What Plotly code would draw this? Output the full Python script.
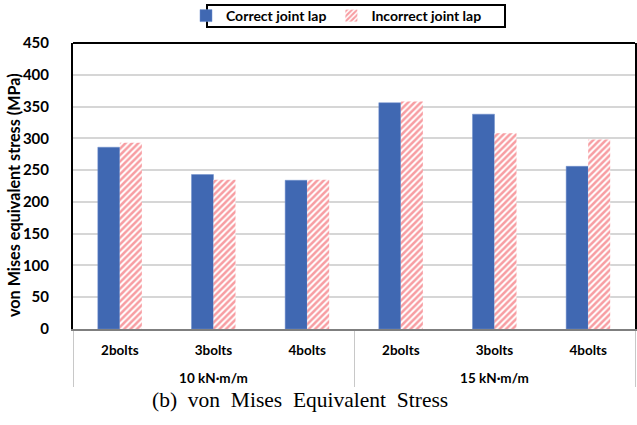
import plotly.graph_objects as go

loads = ["10 kN·m/m"] * 3 + ["15 kN·m/m"] * 3
bolts = ["2bolts", "3bolts", "4bolts", "2bolts", "3bolts", "4bolts"]
correct = [286, 243, 234, 356, 338, 256]
incorrect = [293, 235, 235, 358, 308, 298]
y_ticks = [0, 50, 100, 150, 200, 250, 300, 350, 400, 450]

FONT = "Lato, 'Open Sans', sans-serif"

fig = go.Figure()
fig.add_trace(go.Bar(
    x=[["<br>" + l for l in loads], bolts], y=correct, name="Correct joint lap",
    marker=dict(color="#4068B2", line=dict(color="#6f8fcc", width=0.5)),
))
fig.add_trace(go.Bar(
    x=[["<br>" + l for l in loads], bolts], y=incorrect, name="Incorrect joint lap",
    marker=dict(color="white", line=dict(width=0),
                pattern=dict(shape="/", fgcolor="#f03c46", bgcolor="white",
                             size=4.5, solidity=0.55)),
))

fig.update_layout(
    width=637, height=425,
    margin=dict(l=73, r=2, t=43, b=96),
    paper_bgcolor="white", plot_bgcolor="white",
    barmode="group", bargap=0.53, bargroupgap=0,
    font=dict(family=FONT, color="black", size=14),
    legend=dict(orientation="h", x=186 / 637, xanchor="left", y=1 - 16 / 425, yanchor="middle",
                yref="container", xref="container",
                borderwidth=0, bgcolor="rgba(0,0,0,0)",
                font=dict(family=FONT, size=14, weight="bold"),
                itemwidth=30, tracegroupgap=0),
    showlegend=True,
)

fig.update_yaxes(
    range=[0, 450], tickvals=y_ticks, ticktext=[str(v) for v in y_ticks],
    showgrid=True, gridcolor="#d6d6d6", gridwidth=1.5,
    showline=True, linecolor="black", linewidth=2, mirror=True,
    ticks="", tickfont=dict(family=FONT, size=15, weight="bold"),
    ticklabelstandoff=19, automargin=False,
    zeroline=False,
)
fig.update_xaxes(
    type="multicategory", automargin=False,
    showline=True, linecolor="#7f7f7f", linewidth=2,
    showdividers=True, dividercolor="#c8c8c8", dividerwidth=1,
    tickfont=dict(family=FONT, size=13.5, weight="bold"),
    ticklabelstandoff=8,
    ticks="",
)
# top border of the plot frame
fig.add_shape(type="line", xref="paper", yref="paper", x0=0, x1=1, y0=1, y1=1,
              line=dict(color="black", width=2))
# legend frame
fig.add_shape(type="rect", xref="paper", yref="paper",
              x0=(207 - 73) / 562, x1=(505 - 73) / 562,
              y0=(329 - 27) / 286, y1=(329 - 5) / 286,
              line=dict(color="black", width=2), fillcolor="rgba(0,0,0,0)")
# y-axis title
fig.add_annotation(text="von Mises equivalent stress (MPa)", xref="paper", yref="paper",
                   x=(13 - 73) / 562, y=(329 - 195) / 286, xanchor="center", yanchor="middle",
                   textangle=-90, showarrow=False,
                   font=dict(family=FONT, size=16.2, weight="bold", color="black"))
fig.add_annotation(text="(b)  von  Mises  Equivalent  Stress", xref="paper", yref="paper",
                   x=0.404, y=-0.248, yanchor="middle", showarrow=False,
                   font=dict(family="'Liberation Serif', 'DejaVu Serif', serif", size=21.5, color="black"))

fig.write_html("out.html", config={"displayModeBar": False},
               post_script="document.body.style.margin='0';document.body.style.padding='0';")
